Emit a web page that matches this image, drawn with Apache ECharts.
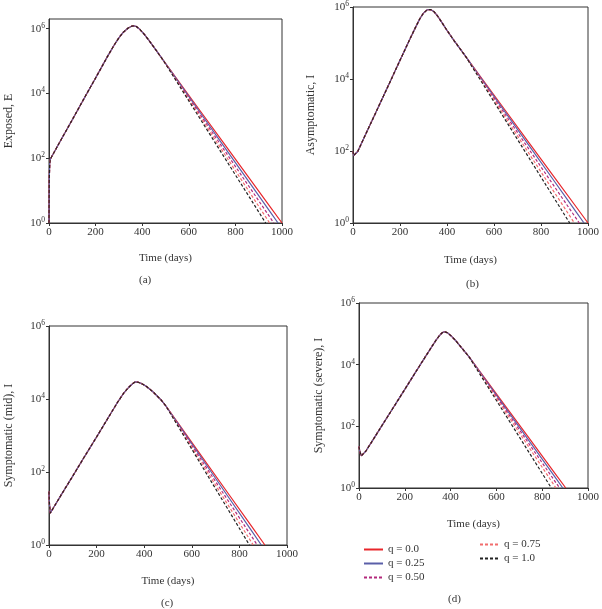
<!DOCTYPE html>
<html><head><meta charset="utf-8">
<script src="https://cdn.jsdelivr.net/npm/echarts@6/dist/echarts.min.js"></script>
<style>html,body{margin:0;padding:0;background:#fff}#c{width:602px;height:609px}</style>
</head><body><div id="c"></div>
<script>
// ---- labels ----
const qNames = ['q = 0.0', 'q = 0.25', 'q = 0.50', 'q = 0.75', 'q = 1.0'];
const xTickValues = [0, 200, 400, 600, 800, 1000];
const yTickExponents = [0, 2, 4, 6];
const yNames = ['Exposed, E', 'Asymptomatic, I', 'Symptomatic (mid), I', 'Symptomatic (severe), I'];
const captions = ['(a)', '(b)', '(c)', '(d)'];
const xName = 'Time (days)';

// ---- panel (a) Exposed ----
const riseA = [[0,1],[1,20],[3,70],[6,95],[50,355],[100,1550],[150,6920],[200,30200],[250,135000],[280,316000],[300,525000],[320,794000],[340,1050000],[355,1200000],[365,1230000],[375,1170000],[390,955000],[410,661000],[430,427000],[460,214000],[490,107000]];
const fallA_q0   = [[550,27400],[650,2830],[750,292],[850,30.2],[950,3.11],[1000,1]];
const fallA_q25  = [[550,26200],[650,2500],[750,238],[850,22.8],[950,2.17],[983,1]];
const fallA_q50  = [[550,24800],[650,2170],[750,189],[850,16.5],[950,1.44],[965,1]];
const fallA_q75  = [[550,23400],[650,1860],[750,147],[850,11.7],[947,1]];
const fallA_q100 = [[550,22100],[650,1590],[750,114],[850,8.2],[930,1]];

// ---- panel (b) Asymptomatic ----
const riseB = [[0,100],[3,75],[8,66],[20,97],[50,257],[100,1290],[150,6460],[200,33100],[240,120000],[265,263000],[285,479000],[300,676000],[315,832000],[330,851000],[345,741000],[360,562000],[380,355000],[400,224000],[430,117000],[460,63100],[480,41700]];
const fallB_q0   = [[550,10000],[650,1290],[750,166],[850,21.5],[950,2.78],[1000,1]];
const fallB_q25  = [[550,9480],[650,1150],[750,138],[850,16.7],[950,2.01],[983,1]];
const fallB_q50  = [[550,8930],[650,986],[750,109],[850,12.0],[963,1]];
const fallB_q75  = [[550,8320],[650,832],[750,83],[850,8.3],[942,1]];
const fallB_q100 = [[550,7730],[650,697],[750,62.8],[850,5.66],[922,1]];

// ---- panel (c) Symptomatic (mid) ----
const riseC = [[0,29],[2,13],[5,7.5],[20,10.8],[50,22.9],[100,77.6],[150,269],[200,912],[250,3160],[290,8510],[315,14800],[335,20900],[350,25700],[362,29500],[375,28800],[390,26300],[410,21900],[440,15100],[470,9550],[490,6610]];
const fallC_q0   = [[550,1860],[650,226],[750,27.4],[850,3.33],[907,1]];
const fallC_q25  = [[550,1780],[650,200],[750,22.4],[850,2.51],[892,1]];
const fallC_q50  = [[550,1680],[650,171],[750,17.4],[850,1.77],[875,1]];
const fallC_q75  = [[550,1570],[650,144],[750,13.2],[858,1]];
const fallC_q100 = [[550,1480],[650,121],[750,9.96],[842,1]];

// ---- panel (d) Symptomatic (severe) ----
const riseD = [[0,22],[4,15],[10,11],[15,10.5],[30,15.8],[50,26.9],[100,105],[150,407],[200,1580],[250,6170],[290,18200],[315,35500],[335,60300],[350,85100],[362,107000],[372,117000],[385,110000],[400,89100],[420,63100],[450,33900],[480,18200]];
const fallD_q0   = [[550,3590],[650,353],[750,34.8],[850,3.42],[903,1]];
const fallD_q25  = [[550,3410],[650,312],[750,28.5],[850,2.61],[890,1]];
const fallD_q50  = [[550,3210],[650,270],[750,22.6],[850,1.9],[876,1]];
const fallD_q75  = [[550,2990],[650,226],[750,17.1],[860,1]];
const fallD_q100 = [[550,2700],[650,177],[750,11.6],[840,1]];

const panels = [
  {rise: riseA, falls: [fallA_q0, fallA_q25, fallA_q50, fallA_q75, fallA_q100]},
  {rise: riseB, falls: [fallB_q0, fallB_q25, fallB_q50, fallB_q75, fallB_q100]},
  {rise: riseC, falls: [fallC_q0, fallC_q25, fallC_q50, fallC_q75, fallC_q100]},
  {rise: riseD, falls: [fallD_q0, fallD_q25, fallD_q50, fallD_q75, fallD_q100]}
];

// ---- layout / style ----
const FONT = '"Liberation Serif", "DejaVu Serif", serif';
const TXT = '#333';
const grids = [
  {left: 49, top: 19, width: 233, height: 204},
  {left: 353, top: 4, width: 239, height: 219},
  {left: 49, top: 326, width: 238, height: 219},
  {left: 359, top: 303, width: 233, height: 185}
];
const yMax = [2e6, 1e6, 1e6, 1e6];
const yNameGap = [34, 36, 34, 34];
const xNameGap = [30, 32, 31, 31];
const captionPos = [[145, 282], [472, 286], [167, 605], [454, 601]];
const qColors = ['#e8262b', '#5a5fa8', '#b3297c', '#f26d6d', '#222222'];
const qTypes = ['solid', 'solid', [3, 2], [3, 2], [3, 2]];

const chart = echarts.init(document.getElementById('c'), null, {renderer: 'canvas'});

const xAxes = [], yAxes = [], series = [];
grids.forEach((g, i) => {
  xAxes.push({
    type: 'value', gridIndex: i, min: xTickValues[0], max: xTickValues[xTickValues.length - 1], interval: 200,
    name: xName, nameLocation: 'middle', nameGap: xNameGap[i],
    nameTextStyle: {fontFamily: FONT, fontSize: 11, color: TXT, fontWeight: 'normal'},
    axisLine: {show: true, lineStyle: {color: '#333', width: 1}},
    axisTick: {show: true, inside: false, length: 3, lineStyle: {color: '#333'}},
    axisLabel: {fontFamily: FONT, fontSize: 11, color: TXT, margin: 4, formatter: v => String(v)},
    splitLine: {show: false}
  });
  yAxes.push({
    type: 'log', logBase: 10, gridIndex: i, min: 1, max: yMax[i], interval: 2,
    name: yNames[i], nameLocation: 'middle', nameGap: yNameGap[i], nameRotate: 90,
    nameTextStyle: {fontFamily: FONT, fontSize: 12, color: TXT, fontWeight: 'normal'},
    axisLine: {show: true, lineStyle: {color: '#333', width: 1}},
    axisTick: {show: true, inside: false, length: 3, lineStyle: {color: '#333'}},
    axisLabel: {
      showMaxLabel: i === 0 ? false : true,
      margin: 4,
      formatter: v => {
        const e = Math.round(Math.log10(v));
        if (yTickExponents.indexOf(e) < 0) return '';
        return '{b|10}{s|' + e + '}';
      },
      rich: {
        b: {fontFamily: FONT, fontSize: 11, color: TXT},
        s: {fontFamily: FONT, fontSize: 7.5, color: TXT, verticalAlign: 'top', padding: [0, 0, 6, 0]}
      }
    },
    splitLine: {show: false}
  });
  panels[i].falls.forEach((fall, q) => {
    series.push({
      type: 'line', name: qNames[q], xAxisIndex: i, yAxisIndex: i,
      data: panels[i].rise.concat(fall),
      symbol: 'none', smooth: false, silent: true,
      lineStyle: {color: qColors[q], width: 1.2, type: qTypes[q]},
      itemStyle: {color: qColors[q]},
      z: 2 + q
    });
  });
});

const legendBase = {orient: 'vertical', itemWidth: 19, itemHeight: 8, itemGap: 3, selectedMode: false,
  itemStyle: {opacity: 0}, textStyle: {fontFamily: FONT, fontSize: 11, color: TXT}};
const option = {
  animation: false,
  backgroundColor: '#fff',
  grid: grids.map(g => Object.assign({show: true, borderColor: '#333', borderWidth: 1, backgroundColor: 'transparent', containLabel: false}, g)),
  xAxis: xAxes,
  yAxis: yAxes,
  legend: [
    Object.assign({data: qNames.slice(0, 3), left: 358, top: 539}, legendBase),
    Object.assign({data: qNames.slice(3), left: 474, top: 534}, legendBase)
  ],
  graphic: captions.map((c, i) => ({
    type: 'text', left: captionPos[i][0] - 6, top: captionPos[i][1] - 7,
    style: {text: c, font: '11px ' + FONT, fill: TXT}
  })),
  series: series
};
chart.setOption(option);
</script>
</body></html>
